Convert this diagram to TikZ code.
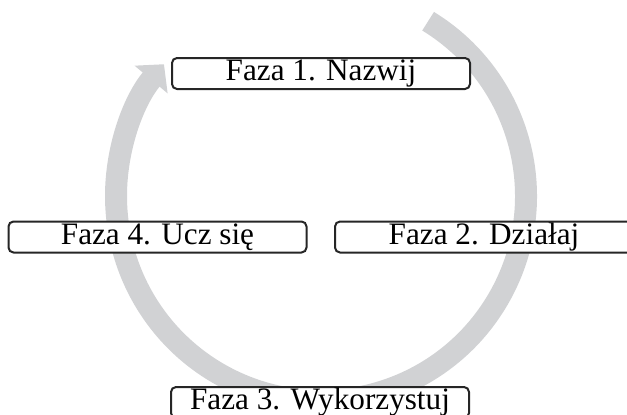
\documentclass[tikz,border=0pt]{standalone}
\usepackage{fontspec}
\setmainfont{Liberation Serif}
\usepackage{tikz}
\usetikzlibrary{arrows.meta}

\definecolor{cyclegray}{RGB}{209,210,212}

\begin{document}
\begin{tikzpicture}[x=0.5pt,y=0.5pt,
    phase/.style={draw=black!85, line width=1pt, rounded corners=2.5pt, fill=white,
      minimum width=149pt, minimum height=15.5pt, inner sep=0pt,
      font=\fontsize{15.6}{18}\selectfont},
    cycle/.style={draw=cyclegray, line width=11pt,
      -{Triangle[width=21pt,length=10pt]}}]
        \useasboundingbox (0,0) rectangle (627,414);
        \coordinate (c) at (321,218);

        % the big grey loop behind the phases
        \draw[cycle] ([shift={(58.5:205)}]c) arc[start angle=58.5, end angle=-220, radius=205];

        \node[phase] (f1) at (321,340.5) {Faza 1. Nazwij};
        \node[phase] (f2) at (484,177) {Faza 2. Działaj};
        \node[phase] (f3) at (320,11.5) {Faza 3. Wykorzystuj};
        \node[phase] (f4) at (157.5,177) {Faza 4. Ucz się};
      \end{tikzpicture}
\end{document}
